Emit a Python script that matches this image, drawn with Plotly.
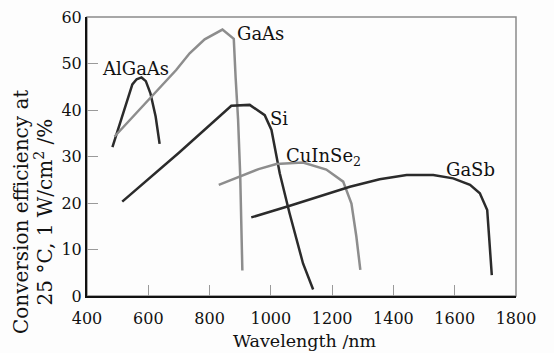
import plotly.graph_objects as go

# Conversion efficiency (%) versus wavelength (nm) for several cell materials
algaas_wl = [483, 520, 548, 562, 578, 592, 607, 624, 637]
algaas_eff = [32.0, 39.5, 45.5, 46.6, 47.0, 46.2, 43.6, 38.6, 32.7]

gaas_wl = [490, 560, 640, 691, 735, 784, 842, 879, 885, 893, 900, 904, 907]
gaas_eff = [34.3, 39.3, 45.0, 48.6, 52.2, 55.2, 57.3, 55.3, 47.0, 38.0, 26.0, 15.0, 5.5]

si_wl = [515, 700, 871, 931, 980, 1002, 1029, 1061, 1105, 1138]
si_eff = [20.3, 30.8, 40.9, 41.1, 38.9, 35.7, 26.4, 17.8, 7.0, 1.4]

cuinse2_wl = [830, 898, 960, 1018, 1105, 1181, 1236, 1263, 1279, 1292]
cuinse2_eff = [23.9, 25.7, 27.3, 28.4, 28.7, 27.2, 24.6, 19.9, 12.8, 5.6]

gasb_wl = [936, 1062, 1258, 1355, 1443, 1530, 1595, 1650, 1682, 1706, 1713, 1721]
gasb_eff = [16.9, 19.4, 23.5, 25.1, 26.0, 26.0, 25.3, 23.9, 22.1, 18.5, 12.0, 4.5]

x_ticks = [400, 600, 800, 1000, 1200, 1400, 1600, 1800]
y_ticks = [0, 10, 20, 30, 40, 50, 60]

DARK = "#2b2b2b"
GRAY = "#8d8d8d"
FONT = "DejaVu Serif"

series = [
    (algaas_wl, algaas_eff, DARK),
    (gaas_wl, gaas_eff, GRAY),
    (si_wl, si_eff, DARK),
    (cuinse2_wl, cuinse2_eff, GRAY),
    (gasb_wl, gasb_eff, DARK),
]

fig = go.Figure()
for wl, eff, color in series:
    fig.add_trace(go.Scatter(x=wl, y=eff, mode="lines",
                             line=dict(color=color, width=2.5),
                             showlegend=False, hoverinfo="skip"))

# curve labels
labels = [
    ("AlGaAs", 558, 48.9),
    ("GaAs", 967, 56.4),
    ("Si", 1026, 38.1),
    ("CuInSe<sub>2</sub>", 1173, 30.0),
    ("GaSb", 1653, 27.2),
]
for text, x, y in labels:
    fig.add_annotation(x=x, y=y, text=text, showarrow=False,
                       xanchor="center", yanchor="middle",
                       font=dict(family=FONT, size=18, color="#111111"))

# y-axis title, two rotated lines
fig.add_annotation(xref="paper", yref="paper", x=-0.152, y=0.30,
                   text="Conversion efficiency at", showarrow=False,
                   textangle=-90, xanchor="center", yanchor="middle",
                   font=dict(family=FONT, size=20, color="#111111"))
fig.add_annotation(xref="paper", yref="paper", x=-0.10, y=0.30,
                   text="25 °C, 1 W/cm<sup>2</sup> /%", showarrow=False,
                   textangle=-90, xanchor="center", yanchor="middle",
                   font=dict(family=FONT, size=20, color="#111111"))

# x-axis title
fig.add_annotation(xref="paper", yref="paper", x=0.508, y=-0.161,
                   text="Wavelength /nm", showarrow=False,
                   xanchor="center", yanchor="middle",
                   font=dict(family=FONT, size=17.5, color="#111111"))

# grey frame on the top and right
fig.add_shape(type="rect", xref="paper", yref="paper", x0=0, y0=0, x1=1, y1=1,
              line=dict(color="#8a8a8a", width=1.5), layer="below")

fig.update_layout(
    width=554, height=353,
    margin=dict(l=87, r=38, t=17, b=57),
    paper_bgcolor="#fdfdfd", plot_bgcolor="#fdfdfd",
    font=dict(family=FONT, size=16, color="#111111"),
    xaxis=dict(range=[400, 1800], tickvals=x_ticks, ticks="inside", ticklen=11,
               tickcolor="#9a9a9a", tickwidth=1.2, showgrid=False, zeroline=False,
               showline=True, linecolor="#111111", linewidth=2,
               ticklabelstandoff=7, automargin=False,
               tickfont=dict(family=FONT, size=16)),
    yaxis=dict(range=[0, 60], tickvals=y_ticks, ticks="inside", ticklen=11,
               tickcolor="#9a9a9a", tickwidth=1.2, showgrid=False, zeroline=False,
               showline=True, linecolor="#111111", linewidth=2,
               automargin=False,
               tickfont=dict(family=FONT, size=16)),
)

fig.write_html("out.html")
